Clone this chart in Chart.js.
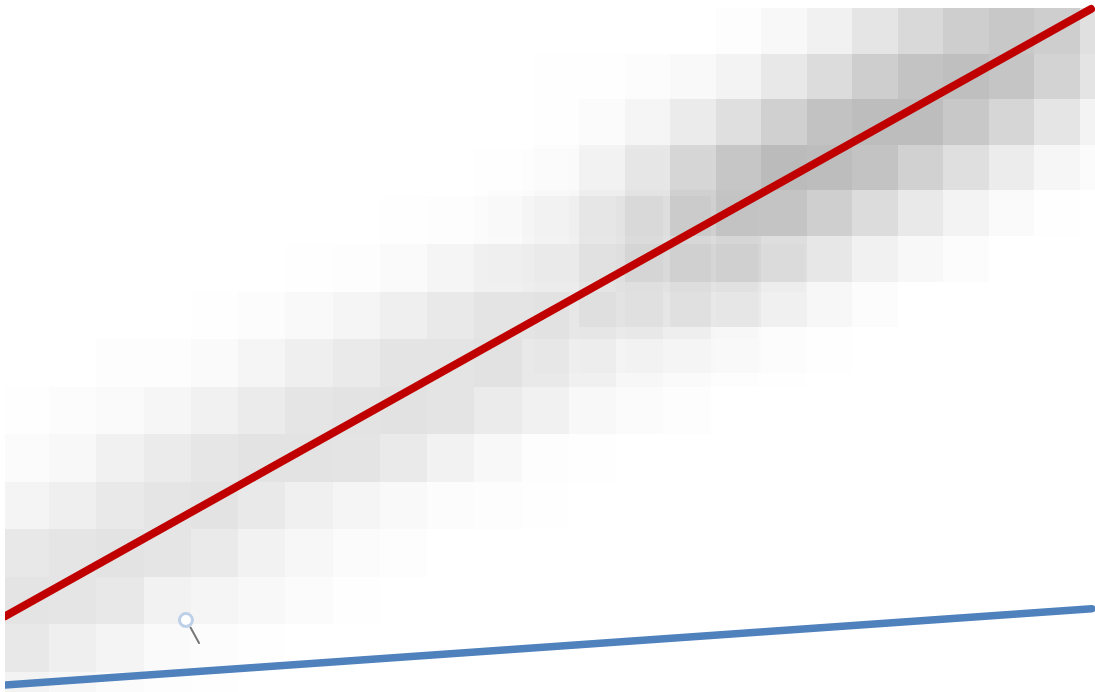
<!DOCTYPE html>
<html lang="en">
<head>
  <meta charset="UTF-8">
  <title>Density with trend lines</title>
  <script src="https://cdn.jsdelivr.net/npm/chart.js"></script>
  <style>
    * { margin: 0; padding: 0; }
    html, body { background: #fff; overflow: hidden; }
    canvas { display: block; }
  </style>
</head>
<body>
  <canvas id="chart" width="1095" height="692"></canvas>
  <script>
    // Trend lines, x and y on a 0-100 scale
    const redX = [0, 99.63];
    const redY = [10.94, 98.7];
    const blueX = [0, 99.7];
    const blueY = [1.01, 12.04];

    // Magnifier marker
    const handleX = [17.02, 17.8];
    const handleY = [9.32, 7.08];
    const lensX = [16.6];
    const lensY = [10.4];

    // Darkness of each cell (0 = white), upper right density, row by row
    const densityA = [
      [0, 0, 0, 0, 0, 0, 2, 7, 14, 26, 38, 49, 55, 49, 31],
      [0, 0, 1, 1, 3, 6, 12, 23, 35, 49, 60, 64, 58, 44, 27],
      [0, 0, 1, 4, 10, 20, 32, 47, 61, 66, 66, 55, 41, 26, 12],
      [0, 0, 3, 11, 23, 40, 57, 68, 66, 60, 46, 32, 19, 9, 4],
      [0, 3, 6, 15, 26, 46, 59, 59, 48, 35, 22, 12, 5, 1, 0],
      [0, 2, 5, 14, 24, 34, 40, 33, 24, 14, 7, 3, 0, 0, 0],
      [0, 1, 3, 11, 14, 20, 22, 15, 8, 3, 0, 0, 0, 0, 0],
      [0, 0, 3, 4, 6, 6, 5, 3, 1, 0, 0, 0, 0, 0, 0]
    ];

    // Same, lower left density
    const densityB = [
      [0, 0, 0, 0, 0, 0, 0, 0, 0, 0, 1, 2, 3, 3, 2, 0, 0],
      [0, 0, 0, 0, 0, 0, 0, 0, 1, 2, 4, 8, 11, 14, 8, 2, 0],
      [0, 0, 0, 0, 0, 0, 1, 2, 5, 10, 15, 17, 17, 20, 16, 9, 4],
      [0, 0, 0, 0, 1, 3, 6, 10, 16, 22, 27, 27, 22, 18, 12, 4, 1],
      [0, 0, 2, 2, 5, 10, 16, 21, 27, 27, 29, 22, 15, 8, 5, 2, 1],
      [1, 3, 5, 9, 14, 20, 26, 28, 29, 27, 20, 14, 7, 4, 2, 0, 0],
      [4, 7, 14, 20, 25, 28, 28, 27, 21, 13, 7, 2, 1, 0, 0, 0, 0],
      [11, 16, 22, 26, 28, 22, 15, 10, 6, 3, 2, 1, 0, 0, 0, 0, 0],
      [23, 26, 28, 26, 21, 13, 8, 4, 2, 0, 0, 0, 0, 0, 0, 0, 0],
      [27, 26, 23, 13, 10, 7, 4, 1, 0, 0, 0, 0, 0, 0, 0, 0, 0],
      [23, 16, 11, 5, 3, 1, 0, 0, 0, 0, 0, 0, 0, 0, 0, 0, 0],
      [12, 8, 4, 2, 1, 0, 0, 0, 0, 0, 0, 0, 0, 0, 0, 0, 0]
    ];

    function toPoints(xs, ys) {
      return xs.map((x, i) => ({ x, y: ys[i] }));
    }

    function toCells(grid) {
      const cells = [];
      grid.forEach((row, r) => row.forEach((d, c) => {
        if (d > 0) cells.push({ x: c + 0.5, y: [r, r + 1], d });
      }));
      return cells;
    }

    function cellDataset(grid, xAxisID, yAxisID) {
      return {
        type: 'bar',
        data: toCells(grid),
        xAxisID,
        yAxisID,
        grouped: false,
        order: 5,
        categoryPercentage: 1,
        barPercentage: 1,
        inflateAmount: 0,
        borderWidth: 0,
        backgroundColor: ctx => `rgba(0, 0, 0, ${(ctx.raw ? ctx.raw.d : 0) / 255})`
      };
    }

    function lineDataset(points, color, width, order) {
      return {
        type: 'line',
        data: points,
        xAxisID: 'x',
        yAxisID: 'y',
        borderColor: color,
        borderWidth: width,
        borderCapStyle: 'round',
        pointRadius: 0,
        clip: 0,
        order
      };
    }

    // Whole pixel cell edges, otherwise antialiased seams show between cells
    const snapCells = {
      id: 'snapCells',
      afterDatasetsUpdate(chart) {
        chart.data.datasets.forEach((ds, i) => {
          if (ds.type !== 'bar') return;
          chart.getDatasetMeta(i).data.forEach(bar => {
            const left = Math.round(bar.x - bar.width / 2);
            const right = Math.round(bar.x + bar.width / 2);
            bar.x = (left + right) / 2;
            bar.width = right - left;
            bar.y = Math.round(bar.y);
            bar.base = Math.round(bar.base);
          });
        });
      }
    };

    const hidden = { type: 'linear', display: false, offset: false, ticks: { stepSize: 5 } };

    new Chart(document.getElementById('chart'), {
      type: 'bar',
      data: {
        datasets: [
          cellDataset(densityA, 'xA', 'yA'),
          cellDataset(densityB, 'xB', 'yB'),
          lineDataset(toPoints(redX, redY), '#c00000', 8, 2),
          lineDataset(toPoints(blueX, blueY), '#4f81bd', 7.5, 2),
          lineDataset(toPoints(handleX, handleY), '#777777', 2, 1),
          {
            type: 'line',
            data: toPoints(lensX, lensY),
            xAxisID: 'x',
            yAxisID: 'y',
            pointRadius: 6.5,
            pointBackgroundColor: '#ffffff',
            pointBorderColor: '#bdd0e8',
            pointBorderWidth: 3,
            order: 0
          }
        ]
      },
      options: {
        responsive: false,
        animation: false,
        layout: { autoPadding: false, padding: { left: 5 } },
        plugins: { legend: { display: false }, tooltip: { enabled: false } },
        scales: {
          x: { ...hidden, axis: 'x', min: 0, max: 100 },
          y: { ...hidden, axis: 'y', min: 0, max: 100 },
          xA: { ...hidden, axis: 'x', min: -9.626, max: 14.33 },
          yA: { ...hidden, axis: 'y', reverse: true, min: -0.175, max: 15 },
          xB: { ...hidden, axis: 'x', min: 0.0635, max: 23.137 },
          yB: { ...hidden, axis: 'y', reverse: true, min: -3.13, max: 11.42 }
        }
      },
      plugins: [snapCells]
    });
  </script>
</body>
</html>
